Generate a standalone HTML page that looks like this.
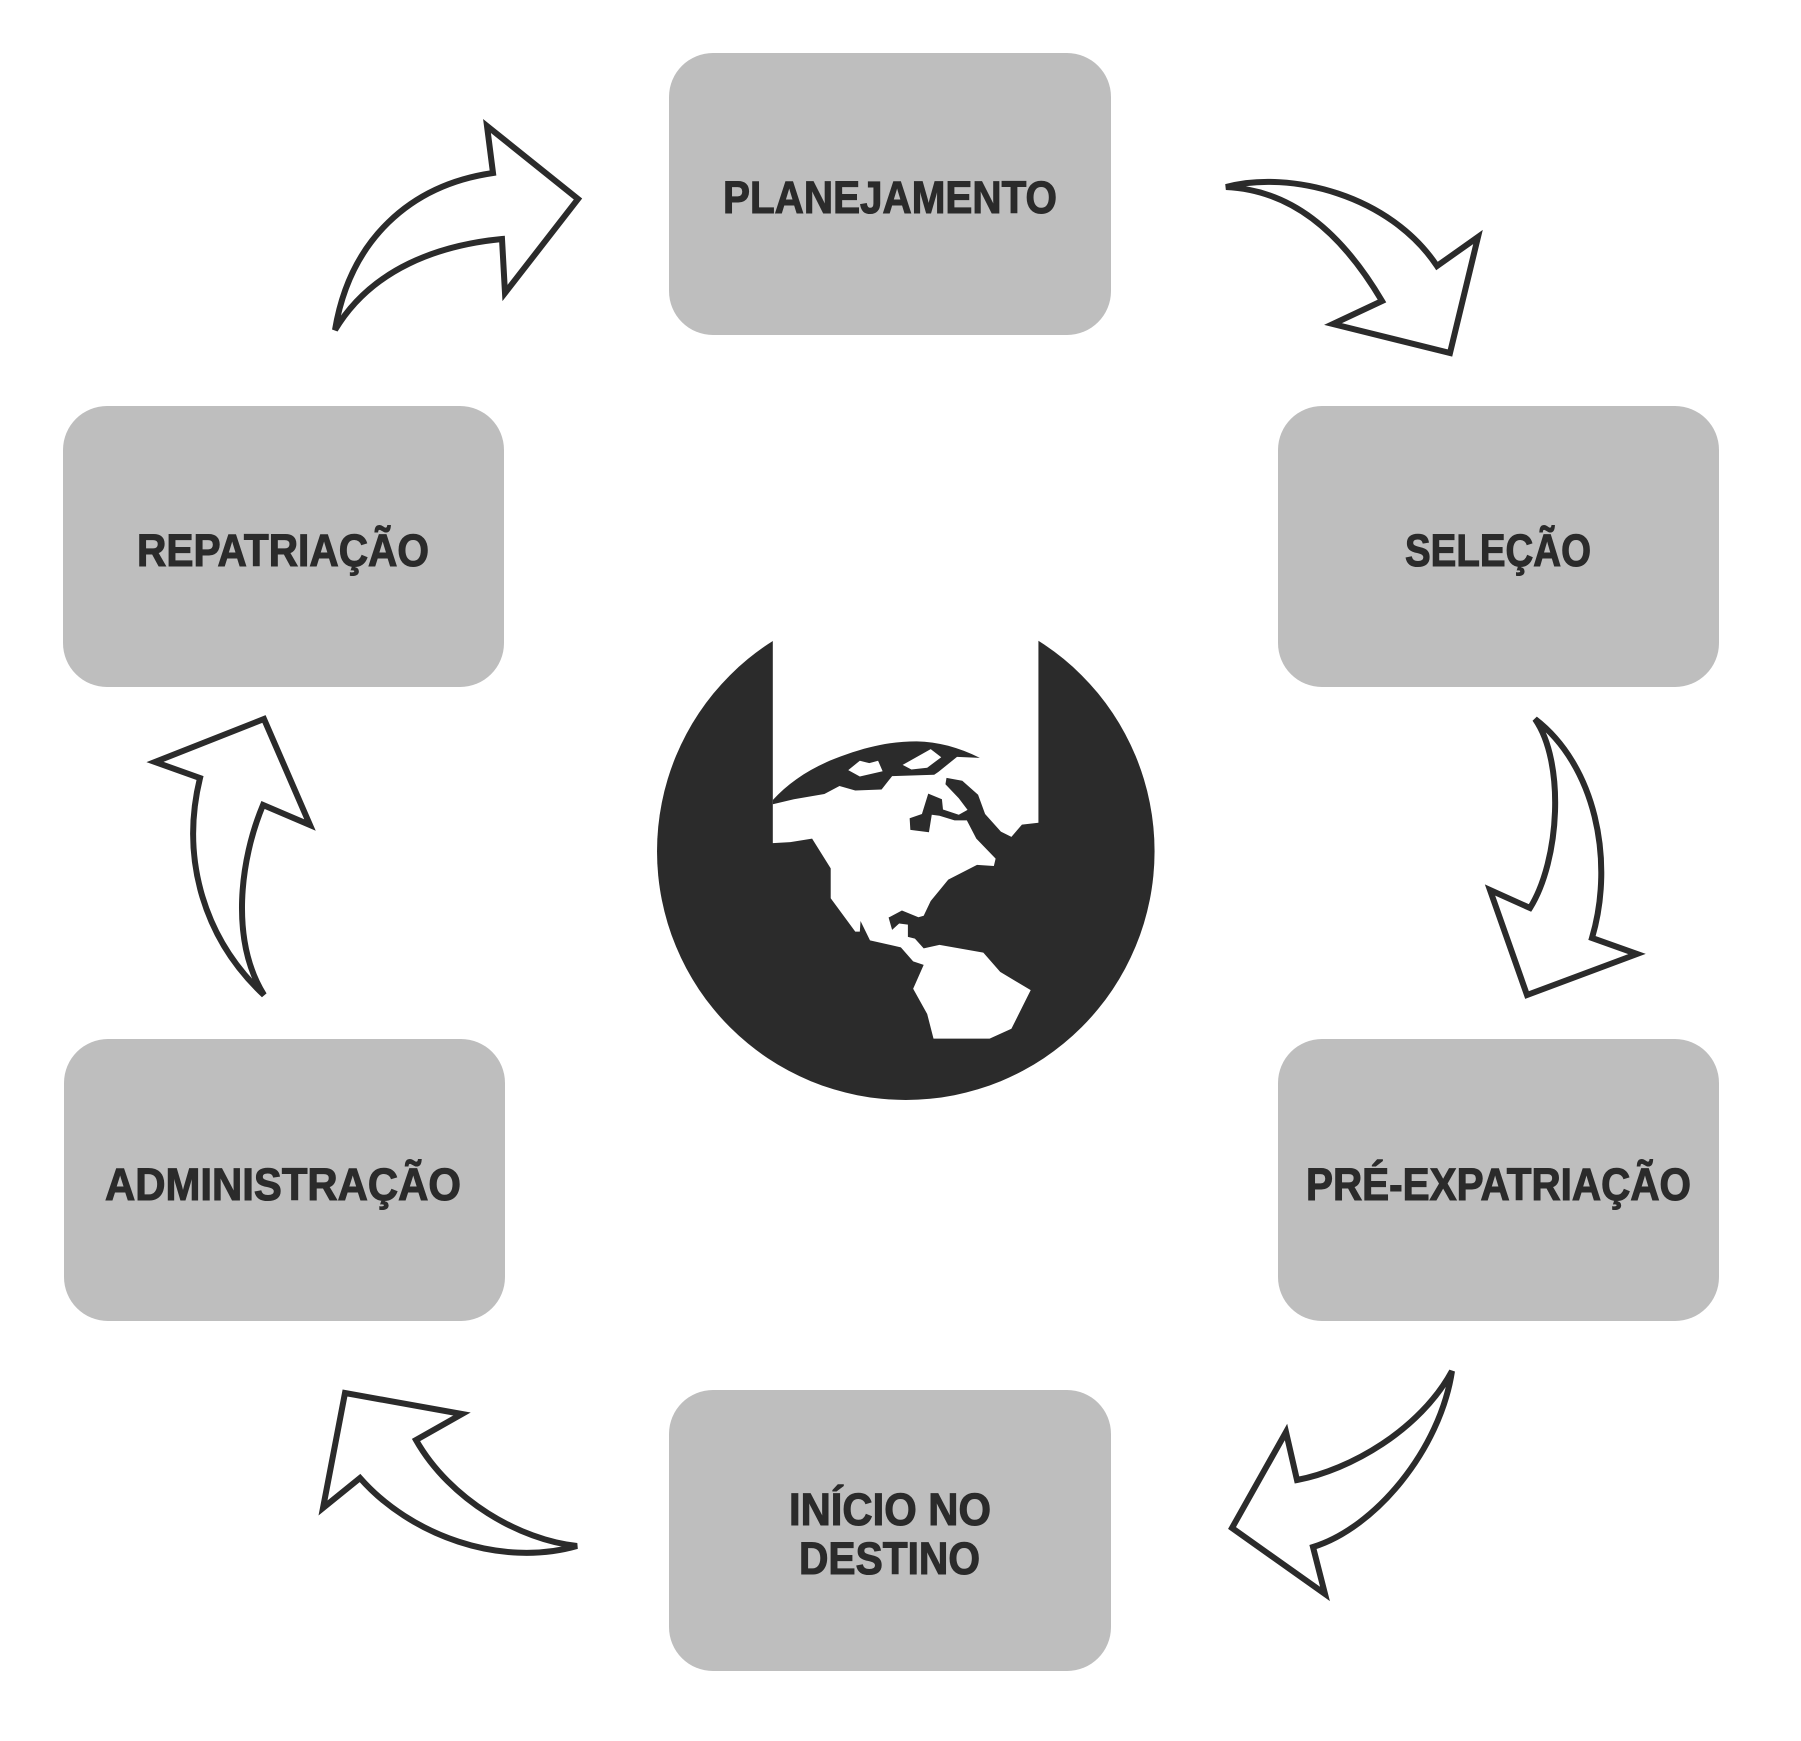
<!DOCTYPE html>
<html>
<head>
<meta charset="utf-8">
<style>
  html, body { margin:0; padding:0; background:#ffffff; }
  svg { display:block; }
  .lbl { font-family: "Liberation Sans", Arial, sans-serif; font-weight:700; font-size:45px; fill:#2b2b2b; stroke:#2b2b2b; stroke-width:1.1; }
  .arr { fill:#ffffff; stroke:#2b2b2b; stroke-width:6; stroke-linejoin:miter; stroke-miterlimit:3; }
</style>
</head>
<body>
<svg width="1801" height="1741" viewBox="0 0 1801 1741" xmlns="http://www.w3.org/2000/svg">
  <rect x="0" y="0" width="1801" height="1741" fill="#ffffff"/>

  <!-- Boxes -->
  <rect x="669" y="53" width="442" height="282" rx="44" ry="44" fill="#bebebe"/>
  <rect x="1278" y="406" width="441" height="281" rx="44" ry="44" fill="#bebebe"/>
  <rect x="1278" y="1039" width="441" height="282" rx="44" ry="44" fill="#bebebe"/>
  <rect x="669" y="1390" width="442" height="281" rx="44" ry="44" fill="#bebebe"/>
  <rect x="64" y="1039" width="441" height="282" rx="44" ry="44" fill="#bebebe"/>
  <rect x="63" y="406" width="441" height="281" rx="44" ry="44" fill="#bebebe"/>

  <!-- Labels -->
  <text class="lbl" x="723" y="213" textLength="334" lengthAdjust="spacingAndGlyphs">PLANEJAMENTO</text>
  <text class="lbl" x="1405" y="566" textLength="186" lengthAdjust="spacingAndGlyphs">SELEÇÃO</text>
  <text class="lbl" x="1306" y="1200" textLength="385" lengthAdjust="spacingAndGlyphs">PRÉ-EXPATRIAÇÃO</text>
  <text class="lbl" x="789" y="1525" textLength="202" lengthAdjust="spacingAndGlyphs">INÍCIO NO</text>
  <text class="lbl" x="799" y="1574" textLength="181" lengthAdjust="spacingAndGlyphs">DESTINO</text>
  <text class="lbl" x="105" y="1200" textLength="356" lengthAdjust="spacingAndGlyphs">ADMINISTRAÇÃO</text>
  <text class="lbl" x="137" y="566" textLength="292" lengthAdjust="spacingAndGlyphs">REPATRIAÇÃO</text>

  <!-- Arrows -->
  <path class="arr" d="M335,330 C350,240 410,185 493,173 L487,126 L578,199 L505,293 L502,239 C440,245 372,268 335,330 Z"/>
  <path class="arr" d="M1226,187 C1290,170 1390,195 1437,266 L1478,237 L1450,353 L1333,324 L1382,301 C1340,230 1290,190 1226,187 Z"/>
  <path class="arr" d="M1535,719 C1595,765 1615,860 1592,938 L1637,954 L1527,995 L1490,890 L1530,908 C1560,860 1565,762 1535,719 Z"/>
  <path class="arr" d="M1452,1371 C1420,1430 1350,1470 1297,1480 L1286,1432 L1232,1528 L1325,1594 L1313,1547 C1375,1528 1440,1450 1452,1371 Z"/>
  <path class="arr" d="M577,1546 C520,1540 450,1500 416,1440 L462,1414 L345,1393 L323,1508 L360,1478 C410,1535 500,1568 577,1546 Z"/>
  <path class="arr" d="M264,995 C205,940 180,860 200,778 L155,762 L264,719 L310,825 L263,805 C240,860 230,940 264,995 Z"/>

  <!-- Globe -->
  <g transform="translate(650,600) scale(0.35088)">
    <circle cx="729" cy="716" r="709" fill="#2b2b2b"/>
    <path fill="#ffffff" d="M350,0 L1107,0 L1107,635 L1060,640 L1030,675 L1000,660 L955,610 L935,555 L890,515 L845,507 L842,525 L880,565 L905,598 L880,612 L835,597 L832,568 L793,552 L775,610 L740,622 L742,655 L795,662 L803,612 L825,615 L868,628 L903,628 L930,680 L985,737 L980,758 L932,755 L850,797 L800,858 L780,900 L765,904 L718,885 L680,905 L690,940 L710,922 L735,925 L735,960 L755,965 L780,993 L825,983 L950,1005 L998,1060 L1085,1112 L1030,1222 L968,1250 L808,1250 L790,1180 L750,1108 L780,1040 L750,1030 L715,990 L627,970 L600,915 L598,945 L585,945 L515,850 L515,765 L462,680 L400,690 L350,693 Z"/>
    <path fill="#2b2b2b" d="M350,570 C400,515 470,470 560,440 C640,412 700,403 760,403 C820,404 880,420 940,450 L875,447 L822,490 L810,498 L690,502 L660,540 L585,543 L540,530 L497,553 L410,568 L350,582 Z"/>
    <path fill="#ffffff" d="M565,485 L598,458 L625,465 L650,458 L663,488 L598,503 Z"/>
    <path fill="#ffffff" d="M720,470 L800,425 L830,448 L790,478 L745,483 Z"/>
  </g>
</svg>
</body>
</html>
